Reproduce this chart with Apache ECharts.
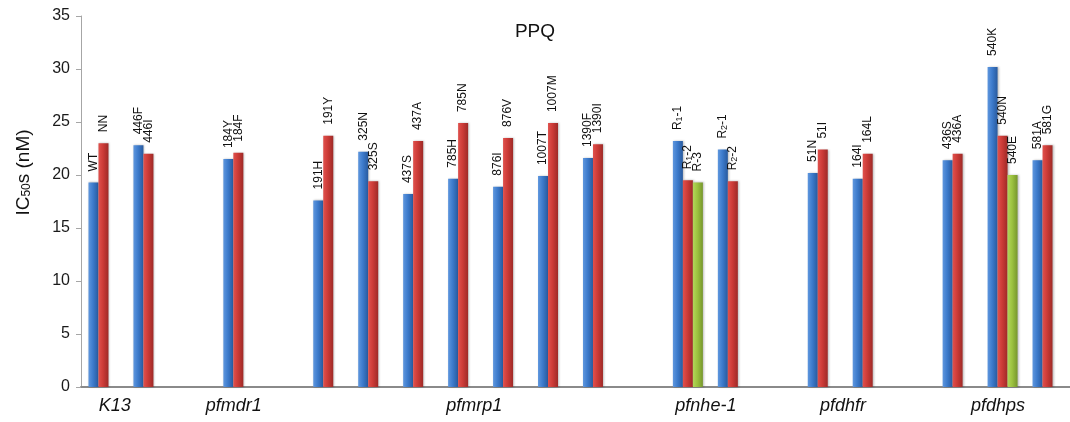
<!DOCTYPE html>
<html>
<head>
<meta charset="utf-8">
<script src="https://cdn.jsdelivr.net/npm/echarts@6/dist/echarts.min.js"></script>
<style>
html,body{margin:0;padding:0;background:#fff;}
#chart{width:1070px;height:422px;}
</style>
</head>
<body>
<div id="chart"></div>
<script>
// ---- data ----
var categories = ['WT/NN','446F/446I','gapA','184Y/184F','gapB','191H/191Y','325N/325S','437S/437A','785H/785N','876I/876V','1007T/1007M','1390F/1390I','gapC','R1','R2','gapD','51N/51I','164I/164L','gapE','436S/436A','540K/540N/540E','581A/581G'];
var blueValues  = [19.3, 22.8, null, 21.5, null, 17.6, 22.2, 18.2, 19.65, 18.9, 19.9, 21.6, null, 23.2, 22.4, null, 20.2, 19.65, null, 21.4, 30.2, 21.4];
var redValues   = [23.0, 22.0, null, 22.1, null, 23.7, 19.4, 23.2, 24.9, 23.5, 24.9, 22.9, null, 19.5, 19.4, null, 22.4, 22.0, null, 22.0, 23.7, 22.8];
var greenValues = [null, null, null, null, null, null, null, null, null, null, null, null, null, 19.3, null, null, null, null, null, null, 20.0, null];
var blueLabels  = ['WT','446F','','184Y','','191H','325N','437S','785H','876I','1007T','1390F','','R1-1','R2-1','','51N','164I','','436S','540K','581A'];
var redLabels   = ['NN','446I','','184F','','191Y','325S','437A','785N','876V','1007M','1390I','','R1-2','R2-2','','51I','164L','','436A','540N','581G'];
var greenLabels = ['','','','','','','','','','','','','','R-3','','','','','','','540E',''];
var groupNames  = ['K13','pfmdr1','pfmrp1','pfnhe-1','pfdhfr','pfdhps'];
var groupAt     = [0.25, 2.9, 8.25, 13.4, 16.45, 19.9];
var yTicks      = [0, 5, 10, 15, 20, 25, 30, 35];

var FONT = 'Liberation Sans, Arial, sans-serif';

function grad(c1, c2, c3) {
  return new echarts.graphic.LinearGradient(0, 0, 1, 0, [
    {offset: 0, color: c1}, {offset: 0.45, color: c2}, {offset: 1, color: c3}
  ]);
}
function labelText(txt) {
  return txt.replace(/^R(\d)/, 'R{s|$1}');
}
function makeSeries(name, values, labels, colors) {
  return {
    name: name,
    type: 'bar',
    barWidth: 10,
    barGap: '0%',
    data: values,
    itemStyle: {
      color: grad(colors[0], colors[1], colors[2]),
      shadowColor: 'rgba(0,0,0,0.25)',
      shadowBlur: 2,
      shadowOffsetX: 1
    },
    label: {
      show: true,
      position: 'top',
      distance: 11,
      rotate: 90,
      align: 'left',
      verticalAlign: 'middle',
      fontFamily: FONT,
      fontSize: 12,
      color: '#111',
      formatter: function (p) { return labelText(labels[p.dataIndex] || ''); },
      rich: {
        s: {fontSize: 9, fontFamily: FONT, color: '#111', verticalAlign: 'bottom', padding: [4, 0, 0, 0]}
      }
    }
  };
}

var chart = echarts.init(document.getElementById('chart'), null, {renderer: 'canvas'});
chart.setOption({
  backgroundColor: '#ffffff',
  animation: false,
  title: {
    text: 'PPQ',
    left: 'center',
    top: 17,
    textStyle: {fontFamily: FONT, fontSize: 19, fontWeight: 'normal', color: '#111'}
  },
  grid: {left: 81, right: -8, top: 16, bottom: 35, containLabel: false},
  xAxis: [{
    type: 'category',
    data: categories,
    position: 'bottom',
    axisLine: {show: true, onZero: false, lineStyle: {color: '#8a8a8a', width: 2}},
    axisTick: {show: false},
    axisLabel: {show: false},
    splitLine: {show: false}
  }, {
    type: 'value',
    min: -0.5,
    max: categories.length - 0.5,
    position: 'bottom',
    axisLine: {show: false, onZero: false},
    axisTick: {show: false},
    splitLine: {show: false},
    axisLabel: {
      show: true,
      customValues: groupAt,
      margin: 10,
      fontFamily: FONT,
      fontSize: 18,
      fontStyle: 'italic',
      color: '#111',
      formatter: function (v) {
        for (var i = 0; i < groupAt.length; i++) {
          if (Math.abs(groupAt[i] - v) < 1e-6) return groupNames[i];
        }
        return '';
      }
    }
  }],
  yAxis: {
    type: 'value',
    min: yTicks[0],
    max: yTicks[yTicks.length - 1],
    interval: 5,
    name: 'IC{s|50}s (nM)',
    nameLocation: 'middle',
    nameGap: 48,
    nameTextStyle: {
      fontFamily: FONT, fontSize: 19, color: '#111',
      padding: [0, 0, 0, 58],
      rich: {s: {fontFamily: FONT, fontSize: 12, color: '#111', verticalAlign: 'bottom', padding: [5, 0, 0, 0]}}
    },
    axisLine: {show: true, onZero: false, lineStyle: {color: '#a6a6a6', width: 1}},
    axisTick: {show: true, length: 5, lineStyle: {color: '#a6a6a6'}},
    axisLabel: {margin: 11, fontFamily: FONT, fontSize: 16, color: '#1a1a1a'},
    splitLine: {show: false}
  },
  series: [
    makeSeries('blue', blueValues, blueLabels, ['#5f97de', '#3d7bcc', '#285a9e']),
    makeSeries('red', redValues, redLabels, ['#e0514d', '#cc3b37', '#9e2a27']),
    makeSeries('green', greenValues, greenLabels, ['#b2d65a', '#9cc23f', '#76962c'])
  ]
});
</script>
</body>
</html>
